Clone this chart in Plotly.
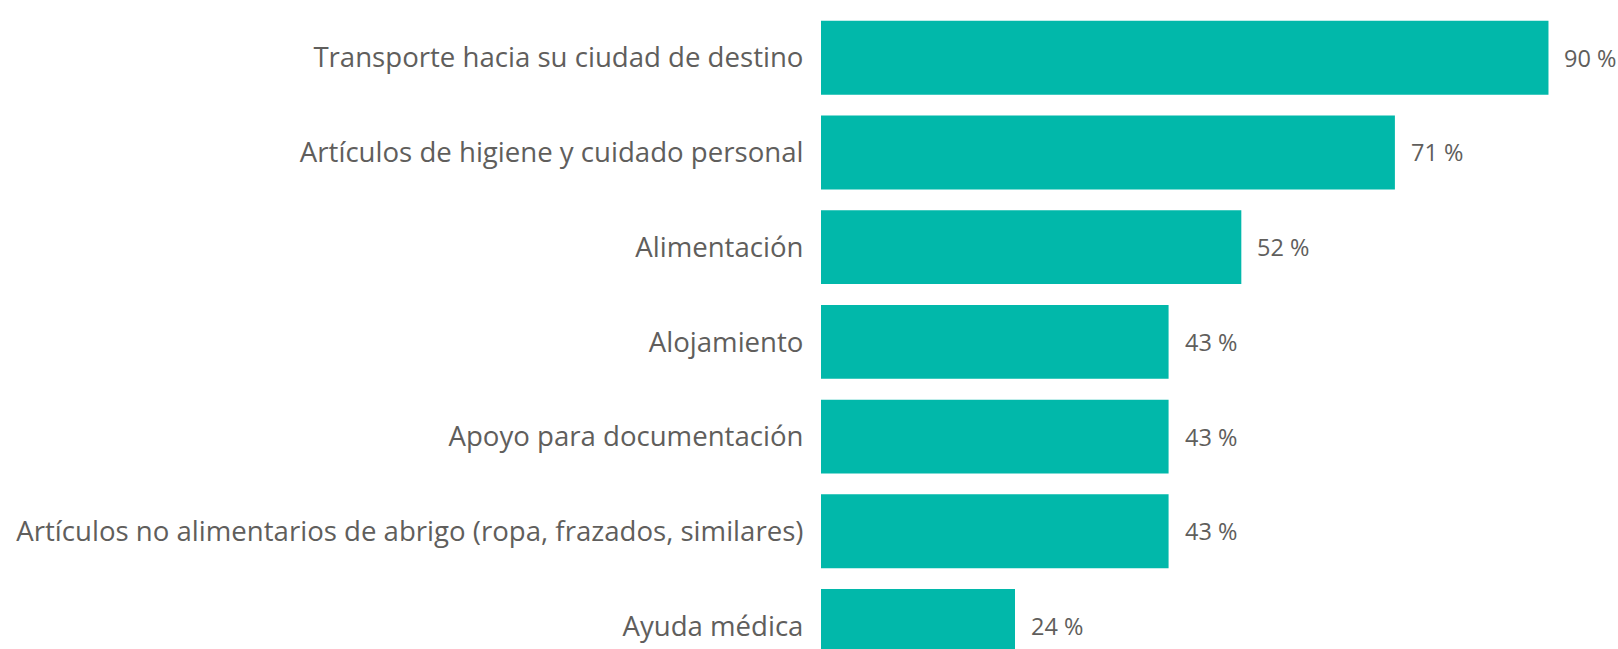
import plotly.graph_objects as go

categories = [
    "Transporte hacia su ciudad de destino",
    "Artículos de higiene y cuidado personal",
    "Alimentación",
    "Alojamiento",
    "Apoyo para documentación",
    "Artículos no alimentarios de abrigo (ropa, frazados, similares)",
    "Ayuda médica",
]
values = [90, 71, 52, 43, 43, 43, 24]
value_labels = [f"{v} %" for v in values]

BAR_COLOR = "#01B8AA"
TEXT_COLOR = "#605E5C"
FONT = "Open Sans, Noto Sans, DejaVu Sans, sans-serif"

fig = go.Figure()
fig.add_trace(go.Bar(
    x=values,
    y=categories,
    orientation="h",
    marker=dict(color=BAR_COLOR, line=dict(width=0)),
    hoverinfo="skip",
))

for cat, v, lab in zip(categories, values, value_labels):
    fig.add_annotation(
        x=v, y=cat, text=lab, showarrow=False,
        xanchor="left", yanchor="middle", xshift=14,
        font=dict(family=FONT, size=23.5, color=TEXT_COLOR),
    )

fig.update_layout(
    width=1618, height=649,
    margin=dict(l=821, r=0, t=0, b=0),
    paper_bgcolor="white", plot_bgcolor="white",
    bargap=0.22,
    showlegend=False,
    xaxis=dict(range=[0, 98.6], visible=False, fixedrange=True),
    yaxis=dict(
        type="category",
        range=[6.243, -0.61],
        showgrid=False, zeroline=False, showline=False,
        ticks="outside", ticklen=11, tickcolor="rgba(0,0,0,0)",
        tickfont=dict(family=FONT, size=27.6, color=TEXT_COLOR),
        fixedrange=True,
    ),
)

fig.write_html(
    "out.html",
    config={"displayModeBar": False},
    post_script="document.body.style.margin='0';document.body.style.overflow='hidden';",
)
